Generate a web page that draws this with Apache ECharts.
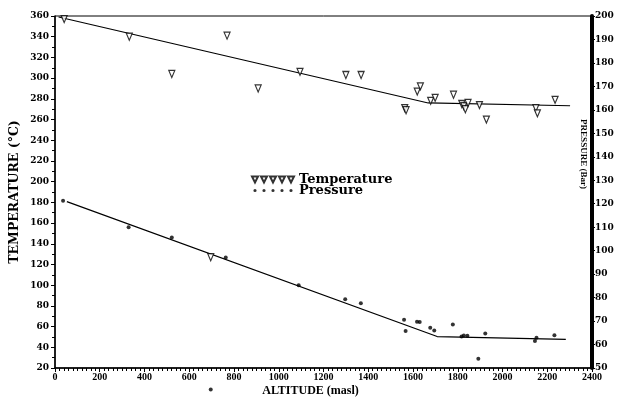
<!DOCTYPE html>
<html>
<head>
<meta charset="utf-8">
<script src="https://cdn.jsdelivr.net/npm/echarts@6/dist/echarts.min.js"></script>
<style>
  html, body { margin: 0; padding: 0; background: #fff; }
  #chart { width: 621px; height: 402px; }
</style>
</head>
<body>
<div id="chart"></div>
<script>
// temperature samples (left axis)
const tempAltitude = [41, 332, 522, 769, 908, 1095, 1300, 1368, 1563, 1569, 1619, 1633, 1679, 1699, 1781, 1818, 1827, 1834, 1846, 1897, 1928, 2149, 2156, 2235, 696]
const temperature = [357, 340, 304, 341, 290, 306, 303, 303, 271, 269, 287, 292, 278, 281, 284, 275, 273, 270, 276, 274, 260, 271, 266, 279, 127]

// pressure samples (right axis)
const pressAltitude = [36, 329, 522, 763, 1089, 1297, 1367, 1560, 1567, 1618, 1630, 1677, 1695, 1778, 1817, 1827, 1843, 1892, 1923, 2145, 2152, 2232, 696]
const pressure = [121.3, 110, 105.6, 97.1, 85.3, 79.3, 77.6, 70.6, 65.8, 69.7, 69.6, 67.1, 66, 68.5, 63.4, 63.9, 63.7, 53.9, 64.7, 61.5, 62.9, 64, 40.8]

// fitted trend lines
const tempFitAltitude = [16, 1668, 2302]
const tempFit = [359, 276, 273.3]
const pressFitAltitude = [53, 1708, 2283]
const pressFit = [120.9, 63.4, 62.2]

const zip = (xs, ys) => xs.map((x, i) => [x, ys[i]])

const font = 'DejaVu Serif'
const font2 = 'Liberation Serif'
// legend icons: five markers in a row
const tempIcon = 'path://M0,0L6,0L3,6Z M9,0L15,0L12,6Z M18,0L24,0L21,6Z M27,0L33,0L30,6Z M36,0L42,0L39,6Z'
const pressIcon = 'path://M0,0L0,0 M42,6L42,6 ' +
  [3, 12, 21, 30, 39].map(c => `M${c - 1.6},3a1.6,1.6 0 1,0 3.2,0a1.6,1.6 0 1,0 -3.2,0Z`).join(' ')

const myChart = echarts.init(document.getElementById('chart'))
myChart.setOption({
  animation: false,
  grid: {
    left: 53,
    right: 29,
    top: 16,
    bottom: 28,
    show: true,
    borderColor: '#000',
    borderWidth: 1
  },
  legend: {
    left: 251,
    top: 173,
    padding: 0,
    orient: 'vertical',
    itemWidth: 42,
    itemHeight: 6,
    itemGap: -2,
    data: [
      { name: 'Temperature', icon: tempIcon },
      { name: 'Pressure', icon: pressIcon }
    ],
    textStyle: { fontFamily: font, fontWeight: 'bold', fontSize: 13, color: '#000', lineHeight: 11 }
  },
  xAxis: {
    type: 'value',
    min: 0,
    max: 2400,
    interval: 200,
    name: 'ALTITUDE (masl)',
    nameLocation: 'middle',
    nameGap: 17,
    nameMoveOverlap: false,
    nameTextStyle: { fontFamily: font2, fontWeight: 'bold', fontSize: 12, color: '#000', padding: [0, 26, 0, 0] },
    axisLine: { lineStyle: { color: '#000', width: 1.5 } },
    axisTick: { length: 4, lineStyle: { color: '#000' } },
    minorTick: { show: true, splitNumber: 10, length: 3, lineStyle: { color: '#000' } },
    axisLabel: { fontFamily: font2, fontWeight: 'bold', fontSize: 10, color: '#000', margin: 4, formatter: v => String(v) },
    splitLine: { show: false }
  },
  yAxis: [
    {
      type: 'value',
      min: 20,
      max: 360,
      interval: 20,
      name: 'TEMPERATURE (°C)',
      nameLocation: 'middle',
      nameGap: 34,
      nameMoveOverlap: false,
      nameTextStyle: { fontFamily: font, fontWeight: 'bold', fontSize: 12.5, color: '#000' },
      axisLine: { lineStyle: { color: '#000', width: 1.5 } },
      axisTick: { length: 4, lineStyle: { color: '#000' } },
      minorTick: { show: true, splitNumber: 2, length: 3, lineStyle: { color: '#000' } },
      axisLabel: { fontFamily: font, fontWeight: 'bold', fontSize: 9, color: '#000', margin: 6 },
      splitLine: { show: false }
    },
    {
      type: 'value',
      position: 'right',
      min: 50,
      max: 200,
      interval: 10,
      name: 'PRESSURE (Bar)',
      nameLocation: 'middle',
      nameRotate: -90,
      nameGap: -13,
      nameMoveOverlap: false,
      nameTextStyle: { fontFamily: font2, fontWeight: 'bold', fontSize: 9, color: '#000', padding: [0, 76, 0, 0] },
      axisLine: { lineStyle: { color: '#000', width: 4 } },
      axisTick: { length: 3, lineStyle: { color: '#000' } },
      axisLabel: { fontFamily: font, fontWeight: 'bold', fontSize: 9, color: '#000', margin: 3 },
      splitLine: { show: false }
    }
  ],
  series: [
    {
      name: 'Temperature',
      type: 'scatter',
      yAxisIndex: 0,
      symbol: 'path://M0,0L10,0L5,10Z',
      symbolSize: [6, 7],
      itemStyle: { color: '#fff', borderColor: '#000', borderWidth: 1.2 },
      data: zip(tempAltitude, temperature),
      z: 3
    },
    {
      name: 'Pressure',
      type: 'scatter',
      yAxisIndex: 1,
      symbol: 'circle',
      symbolSize: 4,
      clip: false,
      itemStyle: { color: '#000' },
      data: zip(pressAltitude, pressure),
      z: 3
    },
    {
      name: 'Temperature fit',
      type: 'line',
      yAxisIndex: 0,
      showSymbol: false,
      symbol: 'none',
      lineStyle: { color: '#000', width: 1.2 },
      data: zip(tempFitAltitude, tempFit)
    },
    {
      name: 'Pressure fit',
      type: 'line',
      yAxisIndex: 1,
      showSymbol: false,
      symbol: 'none',
      lineStyle: { color: '#000', width: 1.2 },
      data: zip(pressFitAltitude, pressFit)
    }
  ]
})
</script>
</body>
</html>
